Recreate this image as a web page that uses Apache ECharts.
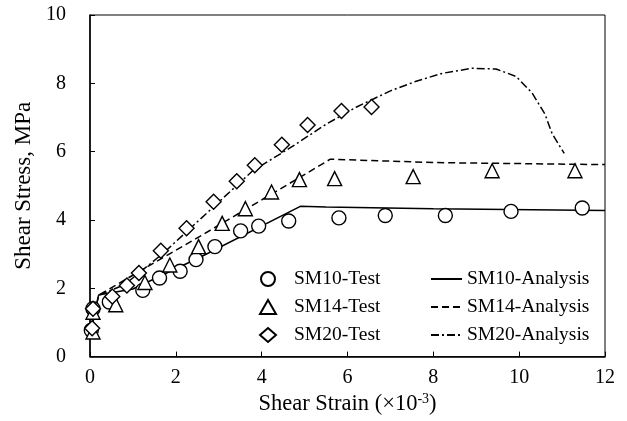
<!DOCTYPE html>
<html style="height: 100%;">
<head>
<meta charset="utf-8">
<title>Shear stress - strain</title>
<script type="text/javascript" src="https://cdn.jsdelivr.net/npm/echarts@6/dist/echarts.min.js"></script>
</head>
<body style="height: 100%; margin: 0; background: #fff">
<div id="container" style="width: 627px; height: 421px"></div>
<script type="text/javascript">
// test points [strain x10^-3, stress MPa]
var sm10Test = [[0.03,0.77],[0.07,1.4],[0.45,1.6],[1.23,1.94],[1.62,2.3],[2.1,2.5],[2.47,2.84],[2.91,3.22],[3.51,3.68],[3.93,3.82],[4.63,3.97],[5.8,4.06],[6.88,4.13],[8.28,4.13],[9.81,4.25],[11.47,4.35]];
var sm14Test = [[0.07,0.72],[0.07,1.3],[0.6,1.52],[1.28,2.17],[1.86,2.68],[2.53,3.22],[3.08,3.9],[3.62,4.33],[4.23,4.82],[4.88,5.18],[5.7,5.21],[7.53,5.27],[9.37,5.44],[11.3,5.44]];
var sm20Test = [[0.05,0.83],[0.07,1.4],[0.52,1.76],[0.86,2.08],[1.14,2.45],[1.65,3.1],[2.25,3.76],[2.88,4.53],[3.42,5.13],[3.84,5.6],[4.47,6.2],[5.07,6.78],[5.86,7.19],[6.56,7.31]];

// analysis curves
var sm10Ana = [[0.05,0.9],[0.2,1.8],[1.0,1.98],[2.6,2.93],[4.9,4.4],[5.5,4.38],[8,4.33],[12,4.28]];
var sm14Ana = [[0.05,0.9],[0.2,1.8],[2.56,3.52],[4.88,5.24],[5.6,5.78],[8,5.68],[12,5.62]];
var sm20Ana = [[0.05,0.9],[0.2,1.8],[0.8,2.1],[1.7,3.02],[2.86,4.36],[3.79,5.44],[4.65,6.1],[5.5,6.8],[6.2,7.3],[7.0,7.78],[7.6,8.06],[8.2,8.29],[8.9,8.44],[9.46,8.42],[9.93,8.2],[10.3,7.72],[10.6,7.1],[10.77,6.52],[11.05,5.95]];

var testNames = ['SM10-Test', 'SM14-Test', 'SM20-Test'];
var anaNames = ['SM10-Analysis', 'SM14-Analysis', 'SM20-Analysis'];

var FONT = '"Liberation Serif", "Times New Roman", serif';
var dom = document.getElementById("container");
var myChart = echarts.init(dom, null, {renderer: 'canvas'});

function scatter(name, data, symbol, size) {
    return {
        name: name, type: 'scatter', data: data, symbol: symbol, symbolSize: size,
        itemStyle: {color: '#fff', borderColor: '#000', borderWidth: 1.4, opacity: 1},
        z: 3
    };
}
function line(name, data, dash) {
    return {
        name: name, type: 'line', data: data, symbol: 'none', smooth: false,
        itemStyle: {color: '#000'},
        lineStyle: {color: '#000', width: 1.5, type: dash},
        z: 2
    };
}

var option = {
    animation: false,
    textStyle: {fontFamily: FONT},
    grid: {left: 90, right: 22, top: 15, bottom: 55, show: true, borderColor: '#000', borderWidth: 1},
    xAxis: {
        type: 'value', min: 0, max: 12, interval: 2,
        name: 'Shear Strain (×10{sup|-3})', nameLocation: 'middle', nameGap: 35,
        nameTextStyle: {fontFamily: FONT, fontSize: 22.5, color: '#000',
            rich: {sup: {fontFamily: FONT, fontSize: 14, color: '#000', verticalAlign: 'top', padding: [0, 0, 10, 0]}}},
        axisLine: {lineStyle: {color: '#000', width: 1.5}},
        axisTick: {inside: true, length: 5, lineStyle: {color: '#000'}},
        axisLabel: {fontFamily: FONT, fontSize: 20, color: '#000', margin: 11},
        splitLine: {show: false}
    },
    yAxis: {
        type: 'value', min: 0, max: 10, interval: 2,
        name: 'Shear Stress, MPa', nameLocation: 'middle', nameGap: 53,
        nameTextStyle: {fontFamily: FONT, fontSize: 23, color: '#000'},
        axisLine: {lineStyle: {color: '#000', width: 1.5}},
        axisTick: {inside: true, length: 5, lineStyle: {color: '#000'}},
        axisLabel: {fontFamily: FONT, fontSize: 20, color: '#000', margin: 24},
        splitLine: {show: false}
    },
    legend: [{
        data: testNames, orient: 'vertical', left: 254, top: 264,
        itemWidth: 16, itemHeight: 14, itemGap: 8,
        textStyle: {fontFamily: FONT, fontSize: 19.5, color: '#000', padding: [0, 0, 0, 13]}
    }, {
        data: anaNames, orient: 'vertical', left: 425, top: 264,
        itemWidth: 31, itemHeight: 14, itemGap: 8,
        itemStyle: {opacity: 0},
        textStyle: {fontFamily: FONT, fontSize: 19.5, color: '#000'}
    }],
    series: [
        scatter('SM10-Test', sm10Test, 'circle', 14),
        scatter('SM14-Test', sm14Test, 'triangle', 14),
        scatter('SM20-Test', sm20Test, 'diamond', 15),
        line('SM10-Analysis', sm10Ana, 'solid'),
        line('SM14-Analysis', sm14Ana, [7, 4]),
        line('SM20-Analysis', sm20Ana, [8, 3, 2, 3])
    ]
};
myChart.setOption(option);
window.onresize = function () {
    myChart.resize();
};
</script>
</body>
</html>
